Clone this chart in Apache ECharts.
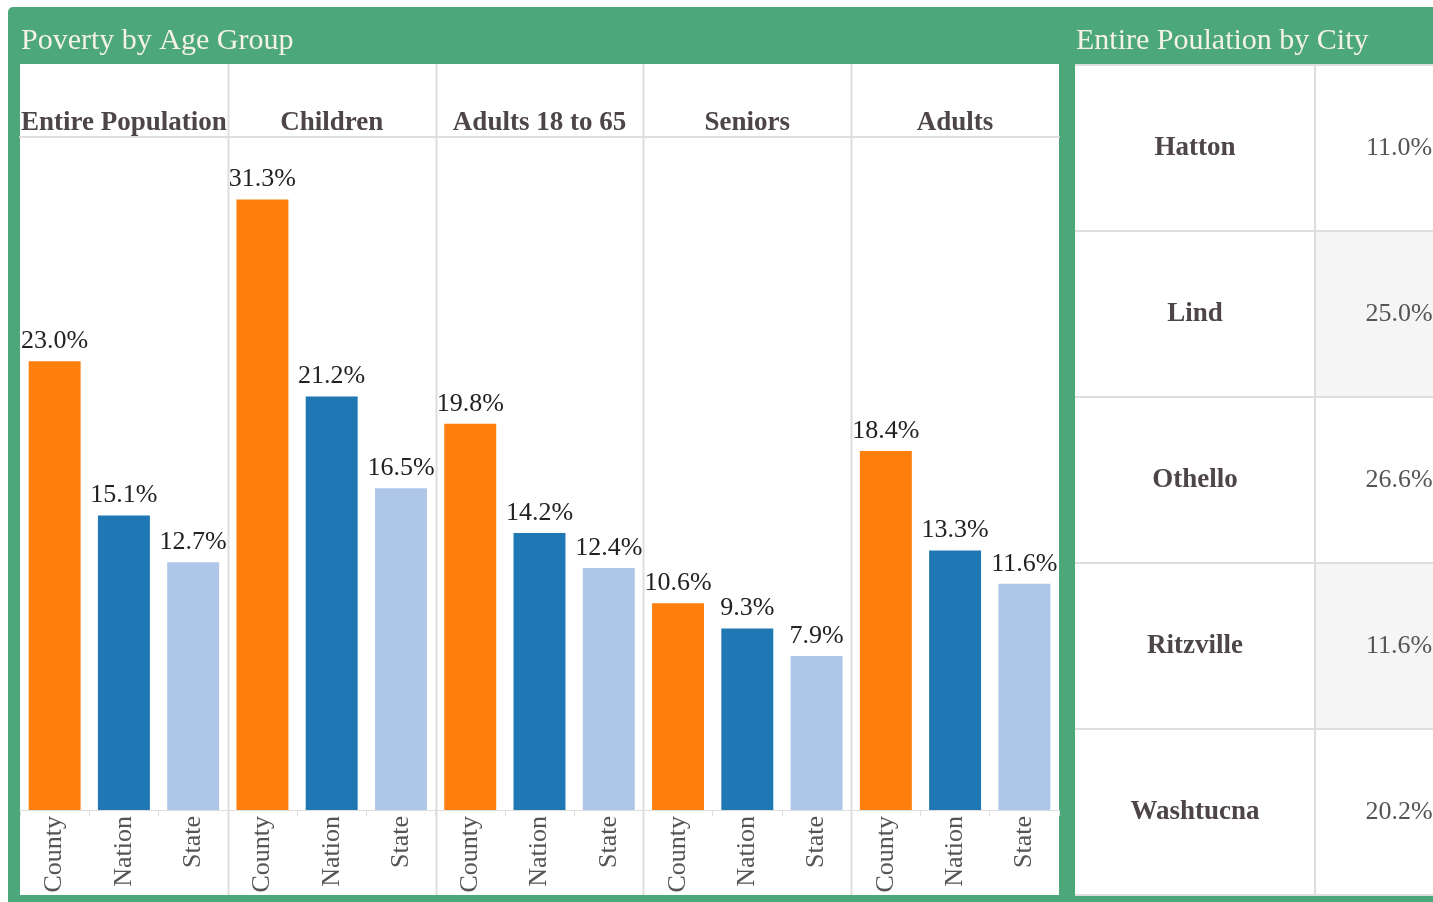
<!DOCTYPE html>
<html>
<head>
<meta charset="utf-8">
<script src="https://cdn.jsdelivr.net/npm/echarts@6/dist/echarts.min.js"></script>
<style>
  html, body { margin: 0; padding: 0; background: #ffffff; }
  #chart { width: 1433px; height: 902px; }
</style>
</head>
<body>
<div id="chart"></div>
<script>
// Poverty rates (%) by age group, comparing county, nation and state
const ageGroups = ['Entire Population', 'Children', 'Adults 18 to 65', 'Seniors', 'Adults'];
const areas = ['County', 'Nation', 'State'];
const countyRates = [23.0, 31.3, 19.8, 10.6, 18.4];
const nationRates = [15.1, 21.2, 14.2, 9.3, 13.3];
const stateRates  = [12.7, 16.5, 12.4, 7.9, 11.6];

// Entire population poverty rate (%) by city
const cities = ['Hatton', 'Lind', 'Othello', 'Ritzville', 'Washtucna'];
const cityRates = [11.0, 25.0, 26.6, 11.6, 20.2];

const areaColors = ['#ff7f0e', '#1f77b4', '#aec7e8'];
const GREEN = '#4ca77b';
const TITLE_COLOR = '#f4f2e2';
const TEXT_DARK = '#4e4646';
const LINE = '#dedede';
const SERIF = '"Liberation Serif", "DejaVu Serif", serif';

// layout of the two panels
const W = 1433, H = 902;
const leftX = 20, leftW = 1039, headTop = 64, plotTop = 137, plotBottom = 810, panelBottom = 895;
const colW = leftW / ageGroups.length;
const rightX = 1075, rightTop = 65, nameColW = 240, rateColW = 168;

const chart = echarts.init(document.getElementById('chart'), null, { renderer: 'canvas' });

const grids = [], xAxes = [], yAxes = [], series = [];
ageGroups.forEach((g, i) => {
  grids.push({ left: leftX + i * colW, width: colW, top: plotTop, bottom: H - plotBottom, outerBoundsMode: 'none' });
  // category axis with the three areas
  xAxes.push({
    gridIndex: i, type: 'category', data: areas, position: 'bottom',
    axisLine: { show: true, lineStyle: { color: LINE, width: 1 } },
    axisTick: { show: true, length: 6, lineStyle: { color: LINE } },
    axisLabel: { rotate: 90, margin: 6, fontFamily: SERIF, fontSize: 26, color: '#555' }
  });
  // header cell carrying the group name
  xAxes.push({
    gridIndex: i, type: 'category', data: [g], position: 'top',
    axisLine: { show: true, lineStyle: { color: LINE, width: 2 } },
    axisTick: { show: false },
    axisLabel: { margin: 0, fontFamily: SERIF, fontSize: 27, fontWeight: 'bold', color: TEXT_DARK }
  });
  yAxes.push({ gridIndex: i, type: 'value', min: 0, max: 34.5, show: false });
  const vals = [countyRates[i], nationRates[i], stateRates[i]];
  series.push({
    type: 'bar', xAxisIndex: i * 2, yAxisIndex: i, barCategoryGap: '25%',
    data: vals.map((v, k) => ({ value: v, itemStyle: { color: areaColors[k] } })),
    label: {
      show: true, position: 'top', distance: 7,
      fontFamily: SERIF, fontSize: 26, color: '#222',
      formatter: p => p.value.toFixed(1) + '%'
    },
    emphasis: { disabled: true }
  });
});

// city table: names as axis labels, rates in the right-hand column
const gi = ageGroups.length;
grids.push({ left: rightX + nameColW, width: rateColW, top: rightTop, bottom: H - panelBottom, outerBoundsMode: 'none' });
xAxes.push({ gridIndex: gi, type: 'category', data: ['rate'], show: false });
yAxes.push({
  gridIndex: gi, type: 'category', data: cities, inverse: true,
  axisLine: { show: true, lineStyle: { color: LINE, width: 2 } },
  axisTick: { show: true, length: nameColW, lineStyle: { color: LINE, width: 2 } },
  axisLabel: { align: 'center', margin: nameColW / 2, fontFamily: SERIF, fontSize: 27, fontWeight: 'bold', color: TEXT_DARK },
  splitLine: { show: true, lineStyle: { color: LINE, width: 2 } },
  splitArea: { show: true, areaStyle: { color: ['#ffffff', '#f5f5f5'] } }
});
series.push({
  type: 'custom', xAxisIndex: gi * 2, yAxisIndex: gi,
  data: cityRates.map((v, k) => [0, k, v]),
  renderItem: (params, api) => {
    const p = api.coord([api.value(0), api.value(1)]);
    return {
      type: 'text', x: p[0], y: p[1],
      style: {
        text: api.value(2).toFixed(1) + '%', align: 'center', verticalAlign: 'middle',
        fontFamily: SERIF, fontSize: 26, fill: '#555'
      }
    };
  }
});

// vertical separators between age-group columns (full panel height)
const dividers = [];
for (let i = 1; i < ageGroups.length; i++) {
  const x = Math.round(leftX + i * colW) + 0.5;
  dividers.push({ type: 'line', z: 1, shape: { x1: x, y1: headTop, x2: x, y2: panelBottom }, style: { stroke: LINE, lineWidth: 2 } });
}

chart.setOption({
  backgroundColor: '#ffffff',
  animation: false,
  grid: grids,
  xAxis: xAxes,
  yAxis: yAxes,
  series: series,
  graphic: [
    { type: 'rect', z: -10, shape: { x: 8, y: 7, width: W, height: H, r: [5, 0, 0, 0] }, style: { fill: GREEN } },
    { type: 'rect', z: -9, shape: { x: leftX, y: headTop, width: leftW, height: panelBottom - headTop }, style: { fill: '#ffffff' } },
    { type: 'rect', z: -9, shape: { x: rightX, y: rightTop, width: W, height: panelBottom - rightTop }, style: { fill: '#ffffff' } },
    { type: 'text', z: 5, x: 21, y: 41, style: { text: 'Poverty by Age Group', fontFamily: SERIF, fontSize: 30, fill: TITLE_COLOR, verticalAlign: 'middle' } },
    { type: 'text', z: 5, x: 1076, y: 41, style: { text: 'Entire Poulation by City', fontFamily: SERIF, fontSize: 30, fill: TITLE_COLOR, verticalAlign: 'middle' } }
  ].concat(dividers)
});
</script>
</body>
</html>
